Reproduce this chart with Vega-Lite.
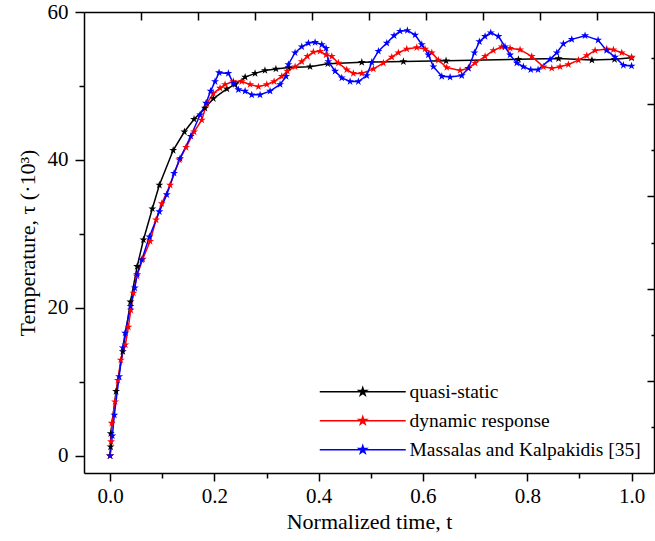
{
  "$schema": "https://vega.github.io/schema/vega-lite/v6.json",
  "width": 570,
  "height": 461,
  "autosize": {"type": "none"},
  "padding": {"left": 84, "top": 12, "right": 1, "bottom": 68},
  "background": "white",
  "config": {"view": {"stroke": null}, "font": "Liberation Serif"},
  "data": {"values": [
    {"series": "quasi-static", "t": 0, "v": 0},
    {"series": "quasi-static", "t": 0.001, "v": 1.2},
    {"series": "quasi-static", "t": 0.0013, "v": 3.0},
    {"series": "quasi-static", "t": 0.0115, "v": 8.7},
    {"series": "quasi-static", "t": 0.0244, "v": 14.1},
    {"series": "quasi-static", "t": 0.039, "v": 20.8},
    {"series": "quasi-static", "t": 0.052, "v": 25.6},
    {"series": "quasi-static", "t": 0.064, "v": 29.2},
    {"series": "quasi-static", "t": 0.081, "v": 33.4},
    {"series": "quasi-static", "t": 0.0945, "v": 36.6},
    {"series": "quasi-static", "t": 0.121, "v": 41.3},
    {"series": "quasi-static", "t": 0.1425, "v": 43.8},
    {"series": "quasi-static", "t": 0.161, "v": 45.5},
    {"series": "quasi-static", "t": 0.182, "v": 47.0},
    {"series": "quasi-static", "t": 0.198, "v": 48.3},
    {"series": "quasi-static", "t": 0.224, "v": 49.6},
    {"series": "quasi-static", "t": 0.24, "v": 50.2},
    {"series": "quasi-static", "t": 0.259, "v": 51.2},
    {"series": "quasi-static", "t": 0.278, "v": 51.7},
    {"series": "quasi-static", "t": 0.297, "v": 52.1},
    {"series": "quasi-static", "t": 0.318, "v": 52.3},
    {"series": "quasi-static", "t": 0.342, "v": 52.5},
    {"series": "quasi-static", "t": 0.3835, "v": 52.6},
    {"series": "quasi-static", "t": 0.4175, "v": 53.0},
    {"series": "quasi-static", "t": 0.4827, "v": 53.2},
    {"series": "quasi-static", "t": 0.5624, "v": 53.3},
    {"series": "quasi-static", "t": 0.6443, "v": 53.4},
    {"series": "quasi-static", "t": 0.783, "v": 53.6},
    {"series": "quasi-static", "t": 0.86, "v": 53.7},
    {"series": "quasi-static", "t": 0.924, "v": 53.5},
    {"series": "quasi-static", "t": 0.9674, "v": 53.6},
    {"series": "quasi-static", "t": 1.0, "v": 53.8},

    {"series": "dynamic response", "t": 0, "v": 0},
    {"series": "dynamic response", "t": 0.002, "v": 1.9},
    {"series": "dynamic response", "t": 0.0033, "v": 4.4},
    {"series": "dynamic response", "t": 0.0096, "v": 7.3},
    {"series": "dynamic response", "t": 0.015, "v": 10.2},
    {"series": "dynamic response", "t": 0.0205, "v": 12.95},
    {"series": "dynamic response", "t": 0.0293, "v": 15.0},
    {"series": "dynamic response", "t": 0.0351, "v": 17.4},
    {"series": "dynamic response", "t": 0.0397, "v": 19.7},
    {"series": "dynamic response", "t": 0.0447, "v": 22.0},
    {"series": "dynamic response", "t": 0.0512, "v": 24.3},
    {"series": "dynamic response", "t": 0.0627, "v": 26.6},
    {"series": "dynamic response", "t": 0.0767, "v": 29.0},
    {"series": "dynamic response", "t": 0.0882, "v": 31.9},
    {"series": "dynamic response", "t": 0.0991, "v": 34.1},
    {"series": "dynamic response", "t": 0.1151, "v": 36.6},
    {"series": "dynamic response", "t": 0.1329, "v": 40.0},
    {"series": "dynamic response", "t": 0.1457, "v": 41.7},
    {"series": "dynamic response", "t": 0.1611, "v": 43.8},
    {"series": "dynamic response", "t": 0.1758, "v": 45.4},
    {"series": "dynamic response", "t": 0.1854, "v": 47.6},
    {"series": "dynamic response", "t": 0.198, "v": 49.0},
    {"series": "dynamic response", "t": 0.2109, "v": 49.7},
    {"series": "dynamic response", "t": 0.2205, "v": 50.2},
    {"series": "dynamic response", "t": 0.2364, "v": 50.6},
    {"series": "dynamic response", "t": 0.2525, "v": 50.6},
    {"series": "dynamic response", "t": 0.2685, "v": 50.2},
    {"series": "dynamic response", "t": 0.2844, "v": 49.9},
    {"series": "dynamic response", "t": 0.3005, "v": 50.2},
    {"series": "dynamic response", "t": 0.3145, "v": 50.6},
    {"series": "dynamic response", "t": 0.3292, "v": 51.3},
    {"series": "dynamic response", "t": 0.34, "v": 52.0},
    {"series": "dynamic response", "t": 0.3548, "v": 52.6},
    {"series": "dynamic response", "t": 0.3676, "v": 53.3},
    {"series": "dynamic response", "t": 0.3783, "v": 54.0},
    {"series": "dynamic response", "t": 0.3898, "v": 54.6},
    {"series": "dynamic response", "t": 0.4027, "v": 54.7},
    {"series": "dynamic response", "t": 0.4142, "v": 54.2},
    {"series": "dynamic response", "t": 0.4251, "v": 54.0},
    {"series": "dynamic response", "t": 0.4378, "v": 53.1},
    {"series": "dynamic response", "t": 0.4539, "v": 52.2},
    {"series": "dynamic response", "t": 0.4665, "v": 51.7},
    {"series": "dynamic response", "t": 0.4827, "v": 51.7},
    {"series": "dynamic response", "t": 0.5049, "v": 52.3},
    {"series": "dynamic response", "t": 0.5241, "v": 53.1},
    {"series": "dynamic response", "t": 0.5402, "v": 53.9},
    {"series": "dynamic response", "t": 0.5528, "v": 54.5},
    {"series": "dynamic response", "t": 0.5689, "v": 55.0},
    {"series": "dynamic response", "t": 0.5881, "v": 55.2},
    {"series": "dynamic response", "t": 0.604, "v": 55.0},
    {"series": "dynamic response", "t": 0.6169, "v": 54.5},
    {"series": "dynamic response", "t": 0.6295, "v": 53.5},
    {"series": "dynamic response", "t": 0.6456, "v": 52.5},
    {"series": "dynamic response", "t": 0.6711, "v": 52.1},
    {"series": "dynamic response", "t": 0.687, "v": 52.4},
    {"series": "dynamic response", "t": 0.6999, "v": 53.1},
    {"series": "dynamic response", "t": 0.7191, "v": 54.0},
    {"series": "dynamic response", "t": 0.735, "v": 54.8},
    {"series": "dynamic response", "t": 0.7511, "v": 55.3},
    {"series": "dynamic response", "t": 0.767, "v": 55.1},
    {"series": "dynamic response", "t": 0.7862, "v": 54.9},
    {"series": "dynamic response", "t": 0.8086, "v": 54.0},
    {"series": "dynamic response", "t": 0.8309, "v": 52.6},
    {"series": "dynamic response", "t": 0.847, "v": 52.4},
    {"series": "dynamic response", "t": 0.8629, "v": 52.6},
    {"series": "dynamic response", "t": 0.8788, "v": 52.9},
    {"series": "dynamic response", "t": 0.898, "v": 53.5},
    {"series": "dynamic response", "t": 0.9141, "v": 54.1},
    {"series": "dynamic response", "t": 0.93, "v": 54.8},
    {"series": "dynamic response", "t": 0.9524, "v": 55.0},
    {"series": "dynamic response", "t": 0.9651, "v": 54.9},
    {"series": "dynamic response", "t": 0.9812, "v": 54.5},
    {"series": "dynamic response", "t": 1.0, "v": 53.9},

    {"series": "Massalas and Kalpakidis [35]", "t": 0, "v": 0},
    {"series": "Massalas and Kalpakidis [35]", "t": 0.0044, "v": 2.7},
    {"series": "Massalas and Kalpakidis [35]", "t": 0.0082, "v": 5.5},
    {"series": "Massalas and Kalpakidis [35]", "t": 0.0173, "v": 10.7},
    {"series": "Massalas and Kalpakidis [35]", "t": 0.0244, "v": 14.6},
    {"series": "Massalas and Kalpakidis [35]", "t": 0.0288, "v": 16.6},
    {"series": "Massalas and Kalpakidis [35]", "t": 0.0393, "v": 20.2},
    {"series": "Massalas and Kalpakidis [35]", "t": 0.0474, "v": 22.7},
    {"series": "Massalas and Kalpakidis [35]", "t": 0.0518, "v": 24.5},
    {"series": "Massalas and Kalpakidis [35]", "t": 0.0608, "v": 26.5},
    {"series": "Massalas and Kalpakidis [35]", "t": 0.0754, "v": 29.6},
    {"series": "Massalas and Kalpakidis [35]", "t": 0.0945, "v": 33.0},
    {"series": "Massalas and Kalpakidis [35]", "t": 0.1087, "v": 35.3},
    {"series": "Massalas and Kalpakidis [35]", "t": 0.1227, "v": 38.2},
    {"series": "Massalas and Kalpakidis [35]", "t": 0.1342, "v": 40.2},
    {"series": "Massalas and Kalpakidis [35]", "t": 0.1547, "v": 43.2},
    {"series": "Massalas and Kalpakidis [35]", "t": 0.1726, "v": 46.1},
    {"series": "Massalas and Kalpakidis [35]", "t": 0.1841, "v": 47.7},
    {"series": "Massalas and Kalpakidis [35]", "t": 0.1927, "v": 49.3},
    {"series": "Massalas and Kalpakidis [35]", "t": 0.2013, "v": 50.6},
    {"series": "Massalas and Kalpakidis [35]", "t": 0.209, "v": 51.8},
    {"series": "Massalas and Kalpakidis [35]", "t": 0.2268, "v": 51.7},
    {"series": "Massalas and Kalpakidis [35]", "t": 0.2364, "v": 50.4},
    {"series": "Massalas and Kalpakidis [35]", "t": 0.246, "v": 49.5},
    {"series": "Massalas and Kalpakidis [35]", "t": 0.2589, "v": 49.3},
    {"series": "Massalas and Kalpakidis [35]", "t": 0.2717, "v": 48.8},
    {"series": "Massalas and Kalpakidis [35]", "t": 0.2876, "v": 48.8},
    {"series": "Massalas and Kalpakidis [35]", "t": 0.3068, "v": 49.3},
    {"series": "Massalas and Kalpakidis [35]", "t": 0.326, "v": 50.2},
    {"series": "Massalas and Kalpakidis [35]", "t": 0.3375, "v": 51.3},
    {"series": "Massalas and Kalpakidis [35]", "t": 0.3419, "v": 52.9},
    {"series": "Massalas and Kalpakidis [35]", "t": 0.3547, "v": 54.5},
    {"series": "Massalas and Kalpakidis [35]", "t": 0.3676, "v": 55.3},
    {"series": "Massalas and Kalpakidis [35]", "t": 0.3803, "v": 55.8},
    {"series": "Massalas and Kalpakidis [35]", "t": 0.3931, "v": 55.9},
    {"series": "Massalas and Kalpakidis [35]", "t": 0.406, "v": 55.6},
    {"series": "Massalas and Kalpakidis [35]", "t": 0.4142, "v": 55.1},
    {"series": "Massalas and Kalpakidis [35]", "t": 0.4186, "v": 53.3},
    {"series": "Massalas and Kalpakidis [35]", "t": 0.4315, "v": 52.0},
    {"series": "Massalas and Kalpakidis [35]", "t": 0.4443, "v": 51.1},
    {"series": "Massalas and Kalpakidis [35]", "t": 0.4602, "v": 50.6},
    {"series": "Massalas and Kalpakidis [35]", "t": 0.4761, "v": 50.6},
    {"series": "Massalas and Kalpakidis [35]", "t": 0.4922, "v": 51.4},
    {"series": "Massalas and Kalpakidis [35]", "t": 0.5018, "v": 53.2},
    {"series": "Massalas and Kalpakidis [35]", "t": 0.5145, "v": 54.7},
    {"series": "Massalas and Kalpakidis [35]", "t": 0.5306, "v": 55.8},
    {"series": "Massalas and Kalpakidis [35]", "t": 0.5446, "v": 56.8},
    {"series": "Massalas and Kalpakidis [35]", "t": 0.5561, "v": 57.4},
    {"series": "Massalas and Kalpakidis [35]", "t": 0.5701, "v": 57.5},
    {"series": "Massalas and Kalpakidis [35]", "t": 0.5849, "v": 56.9},
    {"series": "Massalas and Kalpakidis [35]", "t": 0.5977, "v": 55.6},
    {"series": "Massalas and Kalpakidis [35]", "t": 0.6104, "v": 54.2},
    {"series": "Massalas and Kalpakidis [35]", "t": 0.62, "v": 52.6},
    {"series": "Massalas and Kalpakidis [35]", "t": 0.6361, "v": 51.3},
    {"series": "Massalas and Kalpakidis [35]", "t": 0.652, "v": 51.2},
    {"series": "Massalas and Kalpakidis [35]", "t": 0.6744, "v": 51.4},
    {"series": "Massalas and Kalpakidis [35]", "t": 0.6871, "v": 52.4},
    {"series": "Massalas and Kalpakidis [35]", "t": 0.6986, "v": 54.5},
    {"series": "Massalas and Kalpakidis [35]", "t": 0.7082, "v": 56.0},
    {"series": "Massalas and Kalpakidis [35]", "t": 0.7191, "v": 56.7},
    {"series": "Massalas and Kalpakidis [35]", "t": 0.73, "v": 57.2},
    {"series": "Massalas and Kalpakidis [35]", "t": 0.7446, "v": 56.7},
    {"series": "Massalas and Kalpakidis [35]", "t": 0.7574, "v": 55.3},
    {"series": "Massalas and Kalpakidis [35]", "t": 0.767, "v": 54.2},
    {"series": "Massalas and Kalpakidis [35]", "t": 0.7799, "v": 53.1},
    {"series": "Massalas and Kalpakidis [35]", "t": 0.7925, "v": 52.6},
    {"series": "Massalas and Kalpakidis [35]", "t": 0.8067, "v": 52.2},
    {"series": "Massalas and Kalpakidis [35]", "t": 0.8207, "v": 52.2},
    {"series": "Massalas and Kalpakidis [35]", "t": 0.8437, "v": 53.6},
    {"series": "Massalas and Kalpakidis [35]", "t": 0.8566, "v": 54.5},
    {"series": "Massalas and Kalpakidis [35]", "t": 0.8692, "v": 55.7},
    {"series": "Massalas and Kalpakidis [35]", "t": 0.8853, "v": 56.3},
    {"series": "Massalas and Kalpakidis [35]", "t": 0.9108, "v": 56.8},
    {"series": "Massalas and Kalpakidis [35]", "t": 0.9358, "v": 56.2},
    {"series": "Massalas and Kalpakidis [35]", "t": 0.9521, "v": 54.8},
    {"series": "Massalas and Kalpakidis [35]", "t": 0.9684, "v": 53.9},
    {"series": "Massalas and Kalpakidis [35]", "t": 0.9843, "v": 52.8},
    {"series": "Massalas and Kalpakidis [35]", "t": 1.0, "v": 52.7}
  ]},
  "resolve": {"scale": {"x": "independent", "y": "independent"}},
  "layer": [
    {
      "mark": {"type": "point", "opacity": 0, "clip": true},
      "encoding": {
        "x": {
          "field": "t", "type": "quantitative",
          "scale": {"domain": [0, 10], "nice": false, "zero": false},
          "axis": {
            "orient": "top",
            "values": [1, 2, 3, 4, 5, 6, 7, 8, 9],
            "labels": false, "title": null, "tickSize": -8,
            "domainColor": "black", "domainWidth": 1.5, "tickColor": "black", "tickWidth": 1.5, "grid": false
          }
        },
        "y": {
          "field": "v", "type": "quantitative",
          "scale": {"domain": [0, 10], "nice": false, "zero": false},
          "axis": {
            "orient": "right",
            "values": [1, 2, 3, 4, 5, 6, 7, 8, 9],
            "labels": false, "title": null,
            "tickSize": -7,
            "tickDash": {"condition": {"test": "datum.value % 2 == 0", "value": [30, 1]}, "value": [3, 30]},
            "domainColor": "black", "domainWidth": 1.5, "tickColor": "black", "tickWidth": 1.5, "grid": false
          }
        }
      }
    },
    {
      "mark": {"type": "line", "strokeWidth": 1.5, "point": {"shape": "M0,-1L0.225,-0.309L0.951,-0.309L0.363,0.118L0.588,0.809L0,0.382L-0.588,0.809L-0.363,0.118L-0.951,-0.309L-0.225,-0.309Z", "filled": true, "size": 70, "opacity": 1}},
      "encoding": {
        "x": {
          "field": "t", "type": "quantitative",
          "scale": {"domain": [-0.05, 1.043], "nice": false, "zero": false},
          "axis": {
            "orient": "bottom",
            "values": [0, 0.1, 0.2, 0.3, 0.4, 0.5, 0.6, 0.7, 0.8, 0.9, 1.0],
            "labelExpr": "round(datum.value*10)%2==0 ? format(datum.value,'.1f') : ''",
            "tickSize": 8,
            "tickDash": {"condition": {"test": "round(datum.value*10)%2==0", "value": [30, 1]}, "value": [5, 30]},
            "labelPadding": 4,
            "labelFont": "Liberation Serif", "labelFontSize": 21, "labelColor": "black",
            "title": "Normalized time, t",
            "titleFont": "Liberation Serif", "titleFontSize": 22, "titleFontWeight": "normal", "titleColor": "black",
            "titlePadding": 5,
            "domainColor": "black", "domainWidth": 1.5, "tickColor": "black", "tickWidth": 1.5, "grid": false
          }
        },
        "y": {
          "field": "v", "type": "quantitative",
          "scale": {"domain": [-2.34, 60], "nice": false, "zero": false},
          "axis": {
            "orient": "left",
            "values": [0, 10, 20, 30, 40, 50, 60],
            "labelExpr": "datum.value % 20 == 0 ? format(datum.value,'d') : ''",
            "tickSize": 9,
            "tickDash": {"condition": {"test": "datum.value % 20 == 0", "value": [30, 1]}, "value": [5, 30]},
            "labelPadding": 7,
            "labelFont": "Liberation Serif", "labelFontSize": 21, "labelColor": "black",
            "title": "Temperature, τ  (·10³)",
            "titleFont": "Liberation Serif", "titleFontSize": 22, "titleFontWeight": "normal", "titleColor": "black",
            "titlePadding": 8,
            "domainColor": "black", "domainWidth": 1.5, "tickColor": "black", "tickWidth": 1.5, "grid": false
          }
        },
        "color": {
          "field": "series", "type": "nominal",
          "scale": {"domain": ["quasi-static", "dynamic response", "Massalas and Kalpakidis [35]"], "range": ["#000000", "#ff0000", "#0000ff"]},
          "legend": {
            "title": null,
            "orient": "bottom-right",
            "offset": 13,
            "padding": 0,
            "rowPadding": 8,
            "labelFont": "Liberation Serif", "labelFontSize": 19.5, "labelColor": "black",
            "labelLimit": 400,
            "symbolType": "M0,-1L0.225,-0.309L0.951,-0.309L0.363,0.118L0.588,0.809L0,0.382L-0.588,0.809L-0.363,0.118L-0.951,-0.309L-0.225,-0.309ZM-10.75,0L10.75,0",
            "symbolSize": 64,
            "symbolStrokeWidth": 1.5,
            "symbolOpacity": 1,
            "labelOffset": 37,
            "encode": {"symbols": {"update": {"fill": {"scale": "color", "field": "value"}, "stroke": {"scale": "color", "field": "value"}}}}
          }
        }
      }
    }
  ]
}
